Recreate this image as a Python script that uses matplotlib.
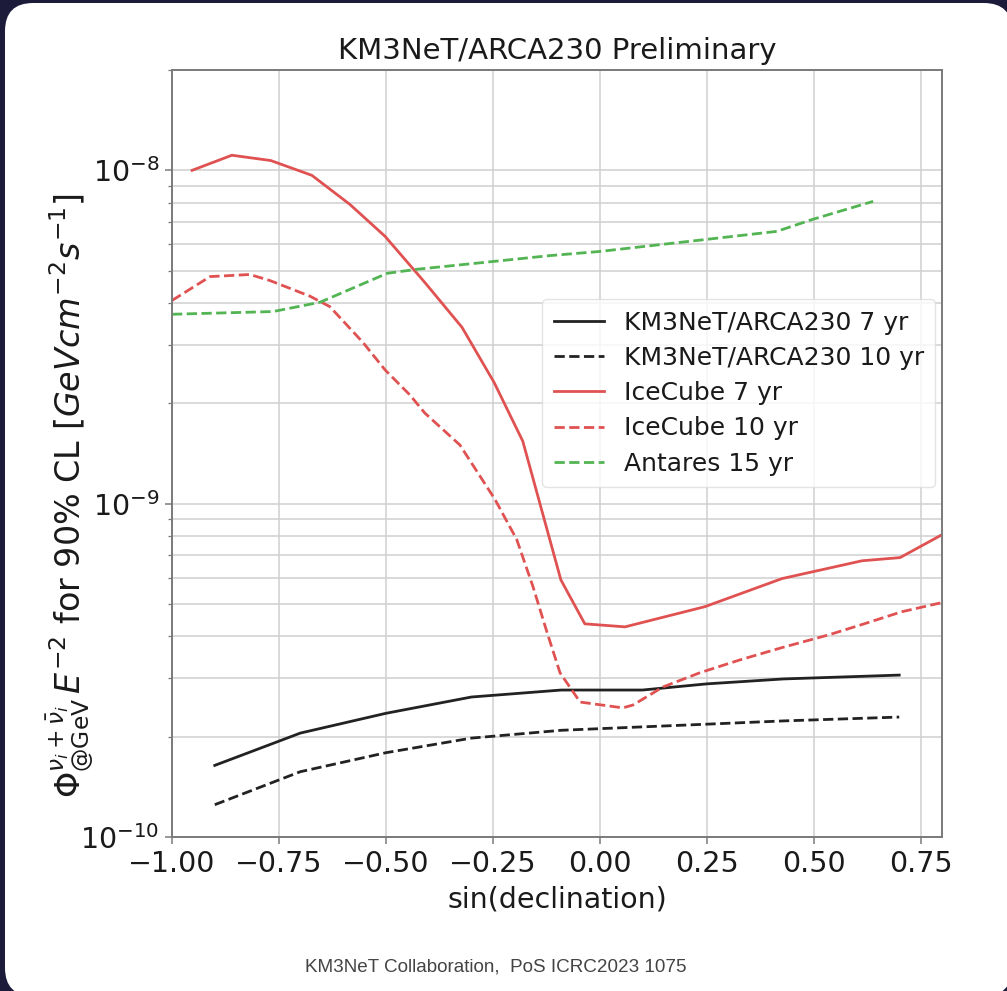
import matplotlib
matplotlib.use("Agg")
import matplotlib.pyplot as plt
from matplotlib.patches import FancyBboxPatch
from matplotlib.ticker import LogLocator, NullFormatter

# ---------------- data ----------------
km3_7_x = [-0.90, -0.70, -0.50, -0.30, -0.09, 0.10, 0.25, 0.43, 0.70]
km3_7_y = [1.64e-10, 2.05e-10, 2.35e-10, 2.63e-10, 2.76e-10, 2.76e-10, 2.88e-10, 2.98e-10, 3.06e-10]

km3_10_x = [-0.90, -0.70, -0.50, -0.30, -0.09, 0.10, 0.25, 0.43, 0.70]
km3_10_y = [1.25e-10, 1.57e-10, 1.79e-10, 1.98e-10, 2.09e-10, 2.14e-10, 2.18e-10, 2.23e-10, 2.29e-10]

ic7_x = [-0.953, -0.860, -0.769, -0.673, -0.584, -0.502, -0.409, -0.322, -0.247,
         -0.180, -0.091, -0.035, 0.059, 0.246, 0.426, 0.613, 0.702, 0.80]
ic7_y = [1.00e-8, 1.11e-8, 1.07e-8, 0.966e-8, 7.9e-9, 6.34e-9, 4.61e-9, 3.38e-9, 2.31e-9,
         1.54e-9, 5.91e-10, 4.36e-10, 4.27e-10, 4.91e-10, 5.96e-10, 6.74e-10, 6.89e-10, 8.07e-10]

ic10_x = [-1.0, -0.911, -0.818, -0.771, -0.677, -0.631, -0.553, -0.502, -0.444, -0.409,
          -0.327, -0.245, -0.194, -0.156, -0.123, -0.093, -0.046, 0.054, 0.078, 0.148,
          0.234, 0.328, 0.426, 0.538, 0.613, 0.706, 0.80]
ic10_y = [4.07e-9, 4.8e-9, 4.87e-9, 4.67e-9, 4.19e-9, 3.9e-9, 3.04e-9, 2.52e-9, 2.12e-9, 1.87e-9,
          1.50e-9, 1.03e-9, 7.8e-10, 5.63e-10, 4.1e-10, 3.11e-10, 2.54e-10, 2.44e-10, 2.49e-10, 2.82e-10,
          3.11e-10, 3.40e-10, 3.70e-10, 4.05e-10, 4.34e-10, 4.74e-10, 5.05e-10]

ant_x = [-1.0, -0.764, -0.654, -0.497, -0.427, -0.273, -0.116, 0.0, 0.251, 0.414, 0.498, 0.639]
ant_y = [3.70e-9, 3.77e-9, 4.02e-9, 4.91e-9, 5.05e-9, 5.29e-9, 5.55e-9, 5.71e-9, 6.21e-9, 6.56e-9, 7.13e-9, 8.07e-9]

labels = ["KM3NeT/ARCA230 7 yr", "KM3NeT/ARCA230 10 yr", "IceCube 7 yr", "IceCube 10 yr", "Antares 15 yr"]
xticks = [-1.00, -0.75, -0.50, -0.25, 0.00, 0.25, 0.50, 0.75]
title = "KM3NeT/ARCA230 Preliminary"
xlabel = "sin(declination)"
ylabel = r"$\Phi^{\nu_i+\bar{\nu}_i}_{\rm @GeV}\, E^{-2}$ for 90% CL [$GeV cm^{-2} s^{-1}$]"
caption = "KM3NeT Collaboration,  PoS ICRC2023 1075"

# ---------------- figure ----------------
W, H = 1007, 991
fig = plt.figure(figsize=(W / 100, H / 100), dpi=100)
fig.patch.set_facecolor("#1c1b3a")

# white rounded slide card (drawn behind the axes)
card = FancyBboxPatch((5 / W, 1 - 996 / H), (1012 - 5) / W, (996 - 3) / H,
                      boxstyle="round,pad=0,rounding_size=0.028",
                      transform=fig.transFigure, facecolor="white",
                      edgecolor="none", zorder=-10, mutation_aspect=W / H)
fig.patches.append(card)

ax = fig.add_axes([172 / W, 1 - 837 / H, (942 - 172) / W, (837 - 70) / H])
ax.set_zorder(5)
ax.set_facecolor("white")

red = "#e05252"
green = "#52b452"
black = "#222222"
lw = 2.0

ax.plot(km3_7_x, km3_7_y, color=black, lw=lw, ls="-", label=labels[0])
ax.plot(km3_10_x, km3_10_y, color=black, lw=lw, ls="--", label=labels[1])
ax.plot(ic7_x, ic7_y, color=red, lw=lw, ls="-", label=labels[2])
ax.plot(ic10_x, ic10_y, color=red, lw=lw, ls="--", label=labels[3])
ax.plot(ant_x, ant_y, color=green, lw=lw, ls="--", label=labels[4])

ax.set_yscale("log")
ax.set_xlim(-1.0, 0.8)
ax.set_ylim(1e-10, 2e-8)
ax.set_xticks(xticks)
ax.set_xticklabels([f"{t:.2f}".replace("-", "\u2212") for t in xticks])
ax.yaxis.set_minor_locator(LogLocator(base=10, subs=range(2, 10)))
ax.yaxis.set_minor_formatter(NullFormatter())

ax.grid(True, which="major", axis="both", color="#cfcfcf", lw=1.1)
ax.grid(True, which="minor", axis="y", color="#cfcfcf", lw=1.1)
ax.set_axisbelow(True)

for s in ax.spines.values():
    s.set_color("#7a7a7a")
    s.set_linewidth(1.4)

ax.tick_params(axis="both", which="major", labelsize=20.5, colors="#7a7a7a",
               labelcolor="#1a1a1a", length=5, width=1.1, pad=4)
ax.tick_params(axis="y", which="minor", colors="#7a7a7a", length=3, width=0.9)

ax.set_title(title, fontsize=21, color="#1a1a1a", pad=8)
ax.set_xlabel(xlabel, fontsize=20.5, color="#1a1a1a", labelpad=6)
ax.set_ylabel(ylabel, fontsize=24, color="#1a1a1a")
ax.yaxis.set_label_coords(-0.099, 0.445)

leg = ax.legend(loc="upper right", bbox_to_anchor=(0.991, 0.701), borderaxespad=0,
                fontsize=18, frameon=True, fancybox=True, framealpha=0.8,
                handlelength=2.0, labelspacing=0.45, borderpad=0.45)
leg.get_frame().set_edgecolor("#dddddd")
for t in leg.get_texts():
    t.set_color("#1a1a1a")

fig.text(496 / W, 1 - 967 / H, caption, ha="center", va="center",
         fontsize=13.6, color="#444444", family="Liberation Sans")

fig.savefig("out.png", dpi=100, facecolor=fig.get_facecolor())
